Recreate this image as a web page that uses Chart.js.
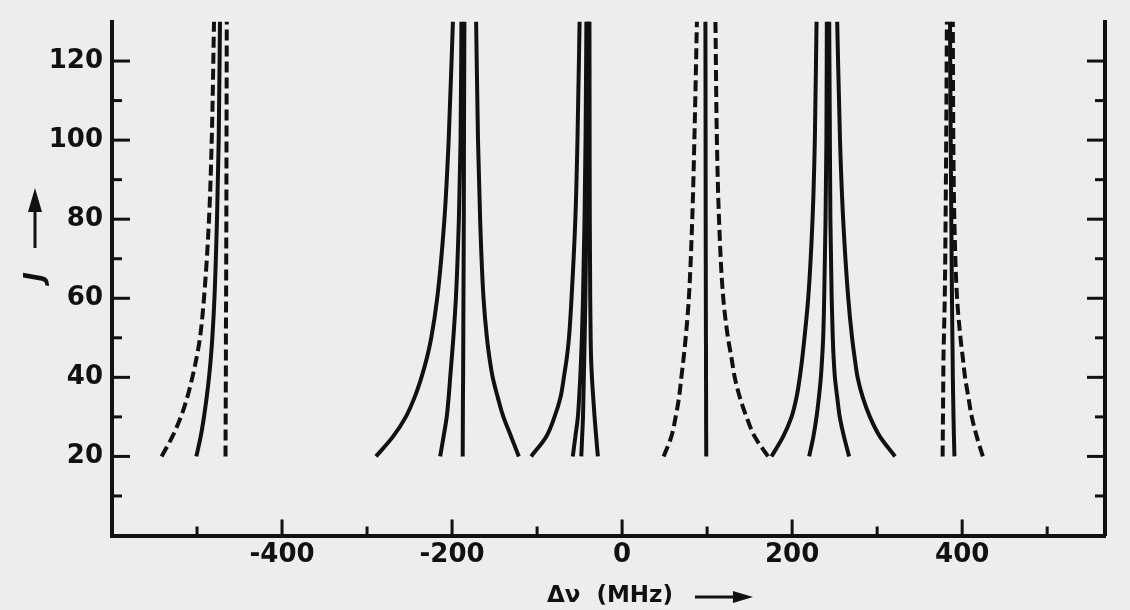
<!DOCTYPE html>
<html><head><meta charset="utf-8">
<script src="https://cdn.jsdelivr.net/npm/chart.js@4.4.1/dist/chart.umd.min.js"></script>
<style>html,body{margin:0;padding:0;background:#ededed;} #wrap{width:1130px;height:610px;position:relative;}</style>
</head><body><div id="wrap"><canvas id="c" width="1130" height="610"></canvas></div>
<script>
const jLevels = [20, 25, 30, 35, 40, 45, 50, 60, 80, 100, 130];

// axis ticks
const xTickLabels = [-400, -200, 0, 200, 400];
const xMinorTicks = [-500, -300, -100, 100, 300, 500];
const yTickLabels = [20, 40, 60, 80, 100, 120];
const yMinorTicks = [10, 30, 50, 70, 90, 110];

// group near -470 MHz
const g1DashOuter = [-541.6, -529, -519, -511.4, -505.5, -500.5, -496.5, -491.8, -485.9, -482.7, -480];
const g1Solid     = [-500.8, -495.7, -491.8, -488.6, -485.9, -483.7, -482, -479.5, -476.5, -474.5, -473];
const g1DashVert  = [-466.5, -466.4, -466.3, -466.2, -466.1, -466, -466, -465.8, -465.5, -465.3, -465];
// group near -190 MHz
const g2A = [-289.5, -269.5, -254.4, -244, -236, -229.5, -224.5, -217.5, -209, -204, -199];
const g2B = [-214, -210, -206.3, -204, -202.2, -200.3, -198.5, -195.5, -192, -190, -189];
const g2C = [-187.5, -187.4, -187.3, -187.2, -187, -186.9, -186.8, -186.6, -186.2, -186, -185.5];
const g2D = [-121.5, -130.5, -139.6, -146.3, -152.2, -156.1, -159, -163, -167, -169.5, -171.7];
// group near -45 MHz
const g3E = [-107, -89.3, -79.5, -72.4, -68.5, -65, -62.5, -59.5, -55, -52.5, -50];
const g3F = [-58, -55, -52, -50.5, -49.2, -48.2, -47.3, -46, -44.2, -43, -42];
const g3G = [-48, -47, -46, -45.5, -45, -44.5, -44, -43.2, -42, -41, -40];
const g3H = [-28.5, -30.5, -32.4, -34, -35.5, -36.5, -37, -37.5, -38, -38.2, -38.4];
// group near 100 MHz
const g4DashLeft  = [48.9, 57.9, 63, 67, 69.7, 72.4, 74.8, 78.5, 82.5, 85, 88];
const g4Solid     = [99, 98.9, 98.8, 98.8, 98.7, 98.7, 98.6, 98.5, 98.3, 98.2, 98];
const g4DashRight = [171.7, 156, 146.3, 138.4, 132.5, 128.6, 124.5, 119, 114, 111.5, 109.8];
// group near 240 MHz
const g5L = [175.7, 189.4, 199.3, 205.2, 209, 212, 214.5, 218.9, 224, 226.7, 228.7];
const g5M = [220, 225, 228.7, 231.5, 233.8, 235.3, 236.5, 237.7, 239.3, 240.3, 240.8];
const g5N = [267, 261, 256, 253, 250.3, 248.8, 247.8, 246.5, 245, 244.4, 243.6];
const g5O = [321, 303.3, 291.5, 283, 277, 273.5, 270.5, 266, 260, 256.3, 253];
// group near 385 MHz
const g6DashVert  = [377, 377.2, 377.4, 377.6, 377.8, 378, 378.5, 379.5, 380.5, 381.2, 382];
const g6Solid     = [390.9, 390.3, 389.8, 389.4, 389, 388.8, 388.5, 388, 387.2, 386.5, 385.7];
const g6DashRight = [424.3, 417.2, 411.3, 407.3, 403.4, 400.7, 398, 394, 390.8, 389.6, 389];

const solidSeries = [g1Solid, g2A, g2B, g2C, g2D, g3E, g3F, g3G, g3H, g4Solid, g5L, g5M, g5N, g5O, g6Solid];
const dashedSeries = [g1DashOuter, g1DashVert, g4DashLeft, g4DashRight, g6DashVert, g6DashRight];

const INK = '#111';
function mk(vals, dashed) {
  return {
    data: vals.map((x, i) => ({x: x, y: jLevels[i]})),
    showLine: true,
    pointRadius: 0,
    borderColor: INK,
    borderWidth: 4,
    borderDash: dashed ? [11, 5] : [],
    borderJoinStyle: 'round',
    cubicInterpolationMode: 'monotone',
    fill: false
  };
}
const datasets = solidSeries.map(v => mk(v, false)).concat(dashedSeries.map(v => mk(v, true)));

const tickFont = {family: 'DejaVu Sans', size: 26, weight: 'bold'};

const bgPlugin = {
  id: 'bg',
  beforeDraw(chart) {
    const c = chart.ctx;
    c.save(); c.fillStyle = '#ededed'; c.fillRect(0, 0, chart.width, chart.height); c.restore();
  }
};

const tickPlugin = {
  id: 'inTicks',
  afterDraw(chart) {
    const c = chart.ctx, a = chart.chartArea, xs = chart.scales.x, ys = chart.scales.y;
    c.save();
    c.strokeStyle = INK; c.lineWidth = 3; c.lineCap = 'butt';
    const xt = (v, len) => { const p = xs.getPixelForValue(v); c.beginPath(); c.moveTo(p, a.bottom); c.lineTo(p, a.bottom - len); c.stroke(); };
    xTickLabels.forEach(v => xt(v, 16));
    xMinorTicks.forEach(v => xt(v, 9));
    const yt = (v, len) => {
      const p = ys.getPixelForValue(v);
      c.beginPath(); c.moveTo(a.left, p); c.lineTo(a.left + len, p); c.stroke();
      c.beginPath(); c.moveTo(a.right, p); c.lineTo(a.right - len, p); c.stroke();
    };
    yTickLabels.forEach(v => yt(v, 18));
    yMinorTicks.forEach(v => yt(v, 10));

    // x axis title
    c.fillStyle = INK;
    c.font = 'bold 23px "DejaVu Sans"';
    c.textBaseline = 'middle'; c.textAlign = 'left';
    const tx = a.left + 0.438 * (a.right - a.left);
    const title = 'Δν  (MHz)';
    c.fillText(title, tx, 596);
    const w = c.measureText(title).width;
    const ax0 = tx + w + 22, ax1 = ax0 + 58, ay = 597;
    c.lineWidth = 3;
    c.beginPath(); c.moveTo(ax0, ay); c.lineTo(ax1 - 14, ay); c.stroke();
    c.beginPath(); c.moveTo(ax1, ay); c.lineTo(ax1 - 20, ay - 6); c.lineTo(ax1 - 20, ay + 6); c.closePath(); c.fill();

    // y axis title (rotated J with arrow)
    c.save();
    c.translate(36, 277);
    c.rotate(-Math.PI / 2);
    c.font = 'italic bold 26px "DejaVu Sans"';
    c.textAlign = 'center'; c.textBaseline = 'middle';
    c.fillText('J', 0, 0);
    c.restore();
    const yx = 35, yb = 248, ytp = 188;
    c.beginPath(); c.moveTo(yx, yb); c.lineTo(yx, ytp + 18); c.stroke();
    c.beginPath(); c.moveTo(yx, ytp); c.lineTo(yx - 7, ytp + 24); c.lineTo(yx + 7, ytp + 24); c.closePath(); c.fill();
    c.restore();
  }
};

new Chart(document.getElementById('c'), {
  type: 'scatter',
  data: {datasets: datasets},
  options: {
    responsive: false,
    animation: false,
    indexAxis: 'y',
    layout: {padding: {top: 21.5, right: 25, bottom: 0, left: 0}},
    plugins: {legend: {display: false}, tooltip: {enabled: false}},
    scales: {
      x: {
        type: 'linear', min: -600, max: 568,
        afterBuildTicks: s => { s.ticks = xTickLabels.map(v => ({value: v})); },
        afterFit: s => { s.height = 74.5; s.paddingLeft = 0; s.paddingRight = 0; },
        ticks: {font: tickFont, color: INK, padding: 4, maxRotation: 0, autoSkip: false},
        grid: {display: false, drawTicks: false},
        border: {display: true, width: 4, color: INK}
      },
      y: {
        type: 'linear', min: 0, max: 130,
        afterBuildTicks: s => { s.ticks = yTickLabels.map(v => ({value: v})); },
        afterFit: s => { s.width = 112; s.paddingTop = 0; s.paddingBottom = 0; },
        ticks: {font: tickFont, color: INK, padding: 9, autoSkip: false},
        grid: {display: false, drawTicks: false},
        border: {display: true, width: 4, color: INK}
      },
      y2: {
        type: 'linear', position: 'right', min: 0, max: 130,
        afterFit: s => { s.width = 0; s.paddingTop = 0; s.paddingBottom = 0; },
        ticks: {display: false},
        grid: {display: false, drawTicks: false},
        border: {display: true, width: 4, color: INK}
      }
    }
  },
  plugins: [bgPlugin, tickPlugin]
});
</script>
</body></html>
